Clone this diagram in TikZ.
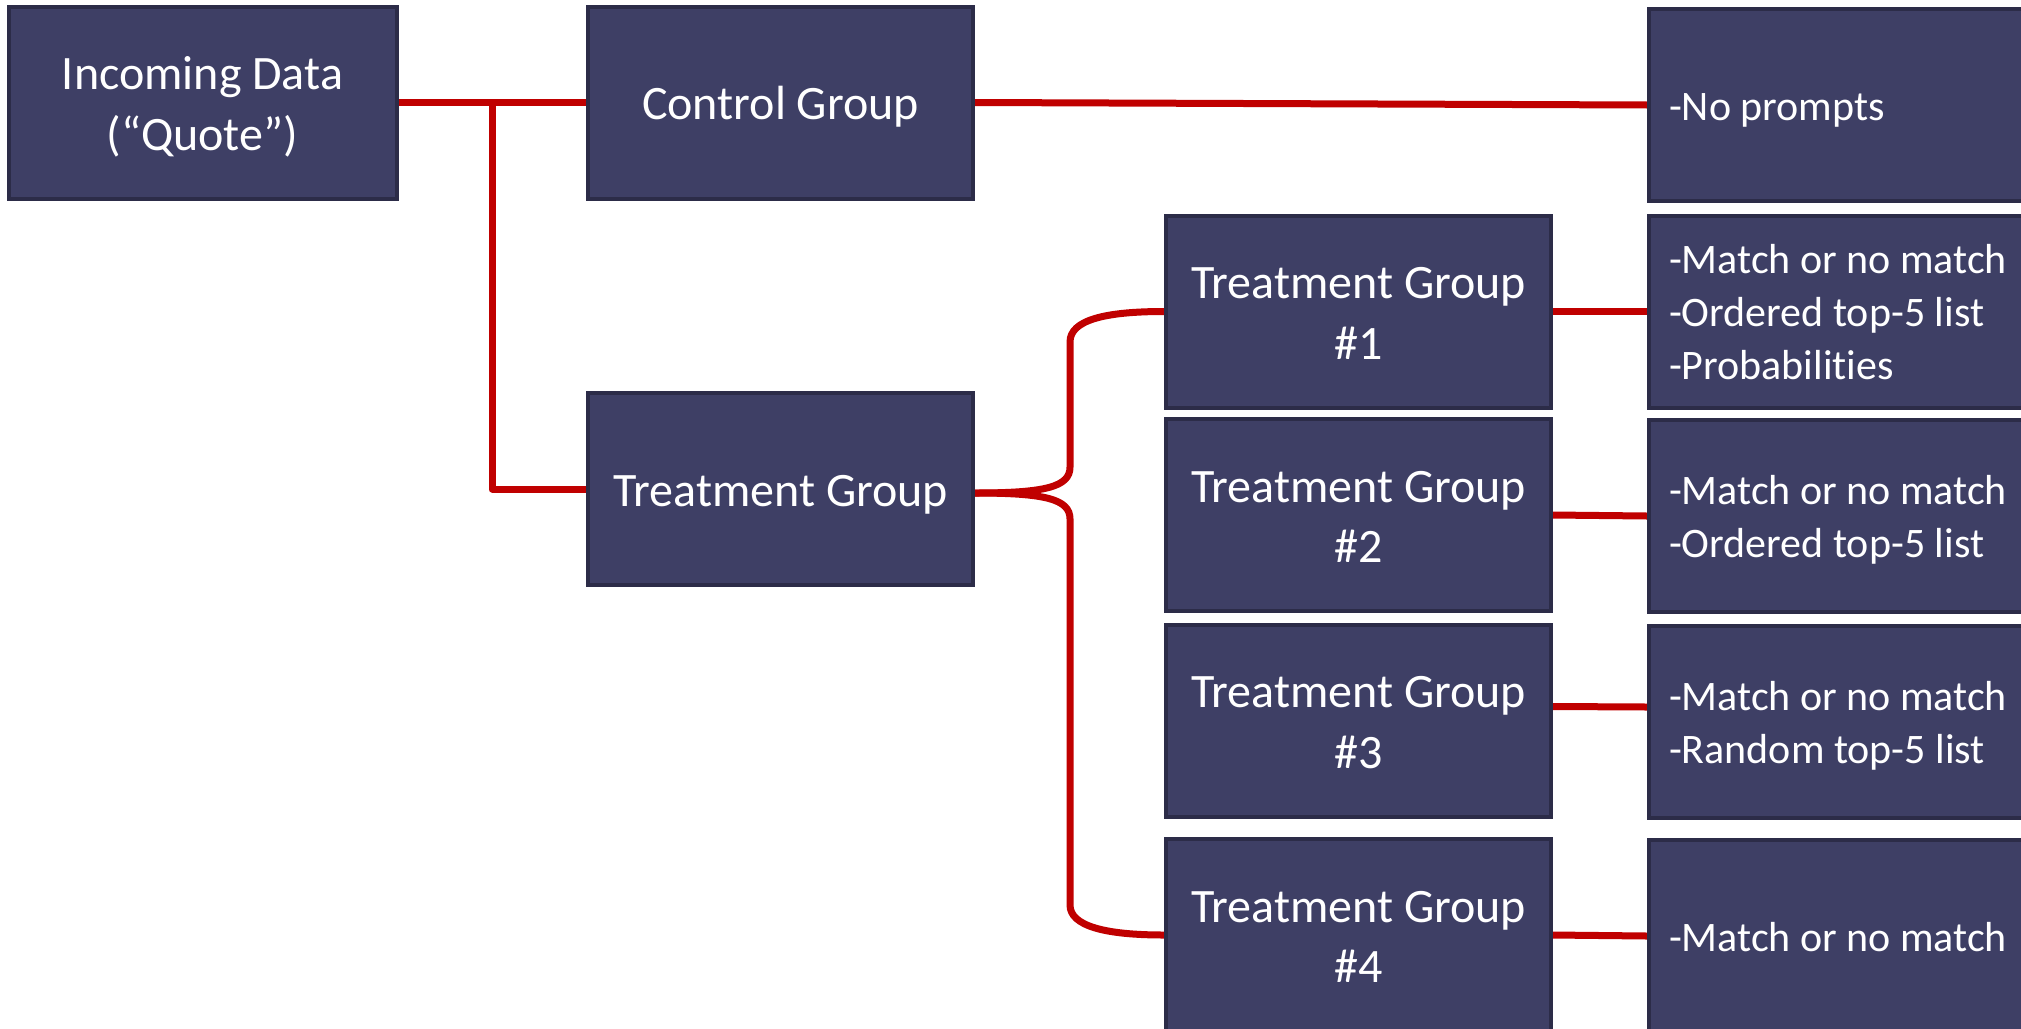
\documentclass[tikz,border=0pt]{standalone}
\usepackage{fontspec}
\setmainfont{Carlito}[Ligatures=NoCommon]
\usetikzlibrary{calc,backgrounds}
\definecolor{boxfill}{RGB}{62,63,101}
\definecolor{boxline}{RGB}{44,44,72}
\definecolor{linkred}{RGB}{192,0,0}
\newcommand\bigstrutline{\rule[-6pt]{0pt}{29.3pt}}
\newcommand\smallstrutline{\rule[-5.25pt]{0pt}{25.65pt}}
\tikzset{
  midbox/.style={rectangle, draw=boxline, fill=boxfill, line width=2pt,
    minimum width=192.5pt, minimum height=96pt, inner sep=0pt,
    text=white, align=center,
    font=\fontsize{24}{29}\selectfont},
  rightbox/.style={rectangle, draw=boxline, fill=boxfill, line width=2pt,
    minimum height=96pt, inner xsep=10pt, inner ysep=0pt,
    text width=176pt, text=white, align=flush left,
    font=\fontsize{21}{25.6}\selectfont},
  link/.style={draw=linkred, line width=3.5pt}
}
\begin{document}
\begin{tikzpicture}[x=0.5pt,y=-0.5pt]
\useasboundingbox (0,0) rectangle (2021,1028);
\clip (0,0) rectangle (2021,1028);

% left column
\node[midbox, minimum width=194pt] (inc) at (202.5,102.5) {\bigstrutline Incoming Data\\\bigstrutline(“Quote”)};
% second column
\node[midbox] (ctrl) at (780.5,102.5) {\bigstrutline Control Group};
\node[midbox] (tg) at (780.5,489) {\bigstrutline Treatment Group};
% third column
\node[midbox] (tg1) at (1358.5,311.5) {\bigstrutline Treatment Group\\\bigstrutline\#1};
\node[midbox] (tg2) at (1358.5,515) {\bigstrutline Treatment Group\\\bigstrutline\#2};
\node[midbox] (tg3) at (1358.5,720.5) {\bigstrutline Treatment Group\\\bigstrutline\#3};
\node[midbox] (tg4) at (1358.5,935) {\bigstrutline Treatment Group\\\bigstrutline\#4};
% right column
\node[rightbox] (np) at (1845,105) {\smallstrutline-No prompts};
\node[rightbox] (rb1) at (1845,311.5) {\smallstrutline-Match or no match\\\smallstrutline-Ordered top-5 list\\\smallstrutline-Probabilities};
\node[rightbox] (rb2) at (1845,516) {\smallstrutline-Match or no match\\\smallstrutline-Ordered top-5 list};
\node[rightbox] (rb3) at (1845,722) {\smallstrutline-Match or no match\\\smallstrutline-Random top-5 list};
\node[rightbox] (rb4) at (1845,936) {\smallstrutline-Match or no match};

\coordinate (j) at (492,102.5);
\coordinate (tip) at ($(tg.east)+(0,4)$);

\begin{pgfonlayer}{background}
\draw[link] (inc.east) -- (ctrl.west);
\draw[link, line join=round] (j) |- (tg.west);
\draw[link] (ctrl.east) -- (np.west);
% brace from Treatment Group
\draw[link] (tip) .. controls (1045,493) and (1070,487) .. (1070,467)
  -- (1070,342) .. controls (1070,320) and (1105,311.5) .. (tg1.west);
\draw[link] (tip) .. controls (1045,493) and (1070,499) .. (1070,519)
  -- (1070,905) .. controls (1070,926) and (1105,935) .. (tg4.west);
% to the right boxes
\draw[link] (tg1.east) -- (rb1.west);
\draw[link] (tg2.east) -- (rb2.west);
\draw[link] ($(tg3.east)+(0,-14)$) -- ($(rb3.west)+(0,-15)$);
\draw[link] (tg4.east) -- (rb4.west);
\end{pgfonlayer}
\end{tikzpicture}
\end{document}
